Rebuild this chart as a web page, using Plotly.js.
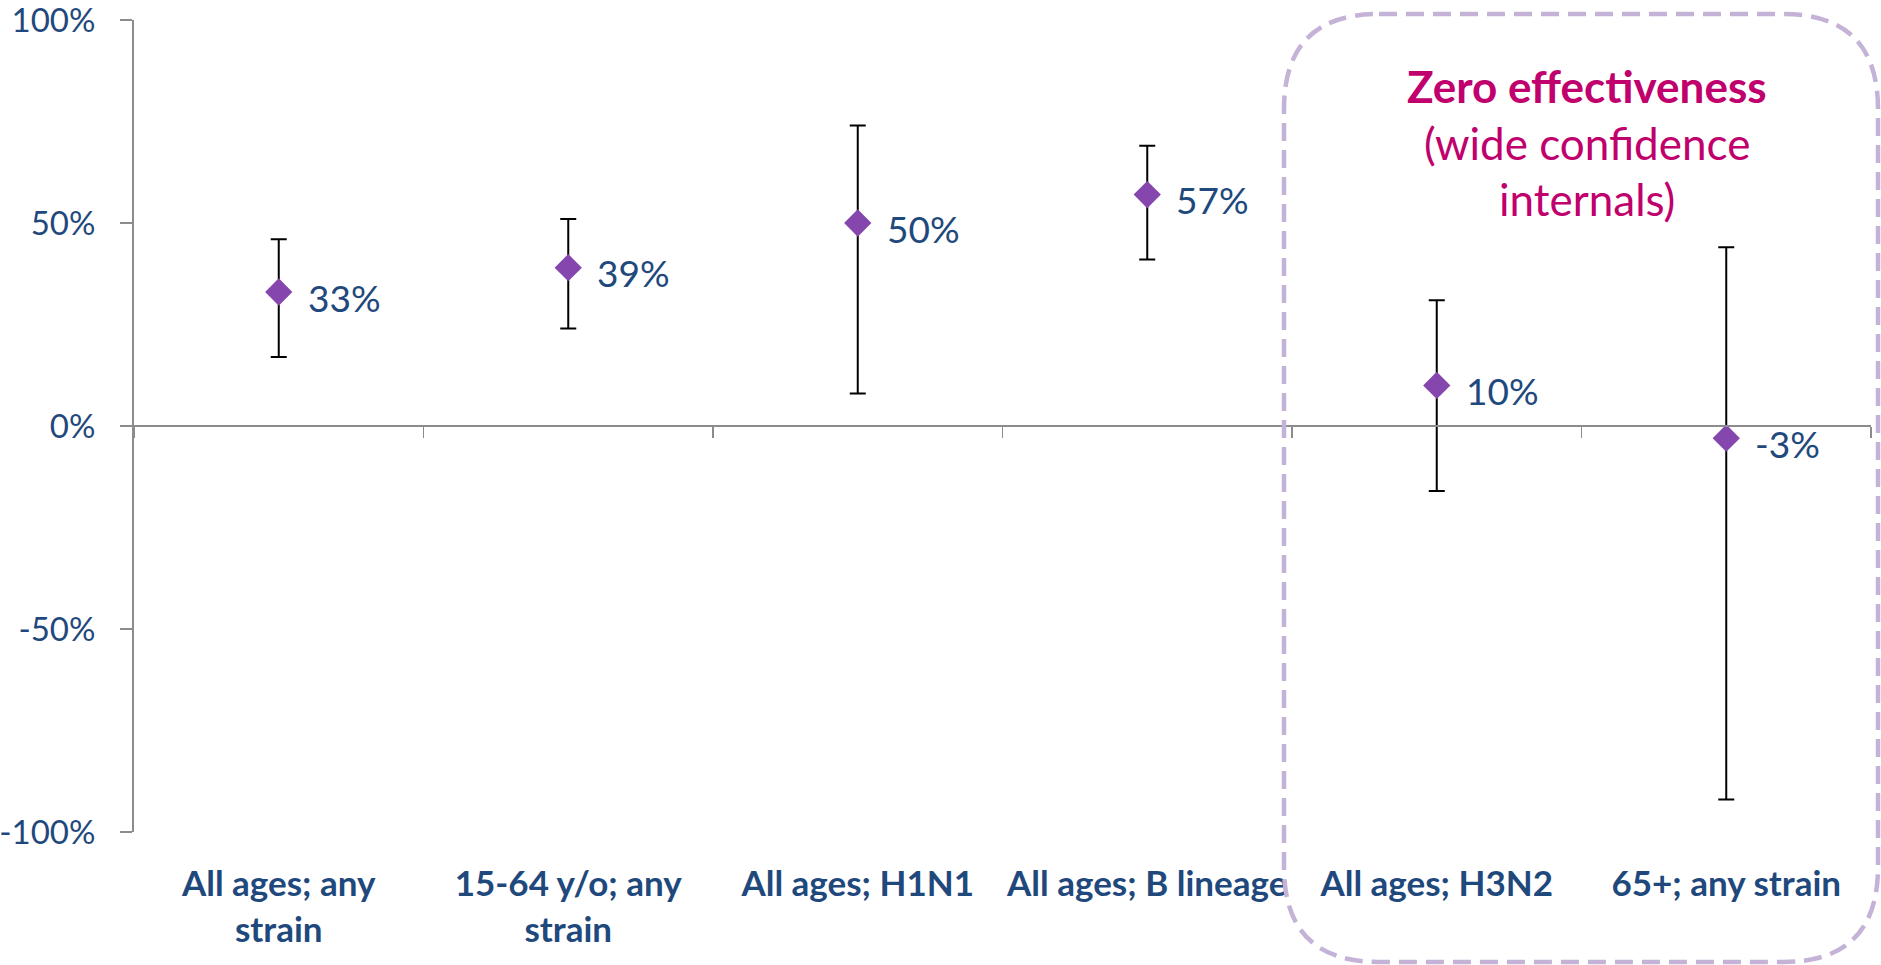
<!DOCTYPE html>
<html>
<head>
<meta charset="utf-8">
<script src="https://cdn.plot.ly/plotly-3.0.1.min.js"></script>
<style>
html,body{margin:0;padding:0;background:#fff;}
#chart{width:1881px;height:965px;}
</style>
</head>
<body>
<div id="chart"></div>
<script>
// ---- data ----
const categories = ["All ages; any<br>strain", "15-64 y/o; any<br>strain", "All ages; H1N1", "All ages; B lineage", "All ages; H3N2", "65+; any strain"];
const effectiveness = [33, 39, 50, 57, 10, -3];
const ciUpper = [46, 51, 74, 69, 31, 44];
const ciLower = [17, 24, 8, 41, -16, -92];
const yTickValues = [-100, -50, 0, 50, 100];
const yTickLabels = ["-100%", "-50%", "0%", "50%", "100%"];
const noteLines = ["Zero effectiveness", "(wide confidence", "internals)"];

// ---- layout geometry ----
const W = 1881, H = 965;
const M = {l: 134, r: 10, t: 20, b: 133};
const plotW = W - M.l - M.r, plotH = H - M.t - M.b;
const px2x = p => (p - M.l) / plotW;
const py2y = p => (H - M.b - p) / plotH;

const blue = "#1F497D";
const magenta = "#C0006C";
const gray = "#8C8C8C";

const trace = {
  type: "scatter",
  mode: "markers",
  x: categories,
  y: effectiveness,
  marker: {symbol: "diamond", size: 21, color: "#8546AE", line: {width: 0}},
  error_y: {
    type: "data",
    symmetric: false,
    array: ciUpper.map((u, i) => u - effectiveness[i]),
    arrayminus: ciLower.map((l, i) => effectiveness[i] - l),
    color: "#000000",
    thickness: 2,
    width: 8
  },
  hoverinfo: "x+y",
  showlegend: false
};

const annotations = effectiveness.map((v, i) => ({
  x: categories[i], y: v, xref: "x", yref: "y",
  text: v + "%", showarrow: false,
  xanchor: "left", yanchor: "middle", xshift: 27, yshift: -5,
  font: {family: "Lato, sans-serif", size: 37, color: blue}
}));

// note text (three lines)
const noteY = [86, 143, 199];
noteLines.forEach((t, i) => {
  annotations.push({
    x: px2x(1587), y: py2y(noteY[i]), xref: "paper", yref: "paper",
    text: t, showarrow: false, xanchor: "center", yanchor: "middle",
    font: {family: "Lato, sans-serif", size: 44, color: magenta, weight: i === 0 ? "bold" : "normal"}
  });
});

// rounded dashed box
const bx0 = px2x(1284), bx1 = px2x(1878), by0 = py2y(962), by1 = py2y(14);
const rx = 95 / plotW, ry = 95 / plotH;
const boxPath = `M ${bx0 + rx},${by1} L ${bx1 - rx},${by1} Q ${bx1},${by1} ${bx1},${by1 - ry} ` +
  `L ${bx1},${by0 + ry} Q ${bx1},${by0} ${bx1 - rx},${by0} L ${bx0 + rx},${by0} ` +
  `Q ${bx0},${by0} ${bx0},${by0 + ry} L ${bx0},${by1 - ry} Q ${bx0},${by1} ${bx0 + rx},${by1} Z`;

const nCat = categories.length;
const layout = {
  width: W, height: H,
  margin: M,
  paper_bgcolor: "#ffffff",
  plot_bgcolor: "#ffffff",
  showlegend: false,
  xaxis: {
    type: "category",
    range: [-0.5, nCat - 0.5],
    showgrid: false, zeroline: false, showline: false,
    ticks: "",
    ticklabelstandoff: 28,
    tickfont: {family: "Lato, sans-serif", size: 35, color: blue, weight: "bold"},
    fixedrange: true
  },
  xaxis2: {
    overlaying: "x", anchor: "free", position: 0.5,
    range: [-0.5, nCat - 0.5],
    tickvals: Array.from({length: nCat + 1}, (_, i) => i - 0.5),
    showticklabels: false,
    ticks: "outside", ticklen: 11, tickwidth: 1.5, tickcolor: gray,
    showline: true, linecolor: gray, linewidth: 2,
    showgrid: false, zeroline: false, fixedrange: true
  },
  yaxis: {
    range: [-100.001, 100.001],
    tickvals: yTickValues, ticktext: yTickLabels,
    showgrid: false, zeroline: false,
    showline: true, linecolor: gray, linewidth: 2,
    ticks: "outside", ticklen: 12, tickwidth: 1.5, tickcolor: gray,
    ticklabelstandoff: 18,
    ticklabeloverflow: "allow",
    tickfont: {family: "Lato, sans-serif", size: 33, color: blue},
    fixedrange: true
  },
  shapes: [{
    type: "path", xref: "paper", yref: "paper", path: boxPath,
    line: {color: "#C4B3D7", width: 4.5, dash: "18px,9px"},
    fillcolor: "rgba(0,0,0,0)", layer: "above"
  }],
  annotations: annotations
};

// empty trace so the boundary-tick axis at the zero line is drawn
const axisTrace = {type: "scatter", mode: "none", x: [], y: [], xaxis: "x2", yaxis: "y", showlegend: false, hoverinfo: "skip"};

Plotly.newPlot("chart", [axisTrace, trace], layout, {displayModeBar: false, staticPlot: true});
</script>
</body>
</html>
